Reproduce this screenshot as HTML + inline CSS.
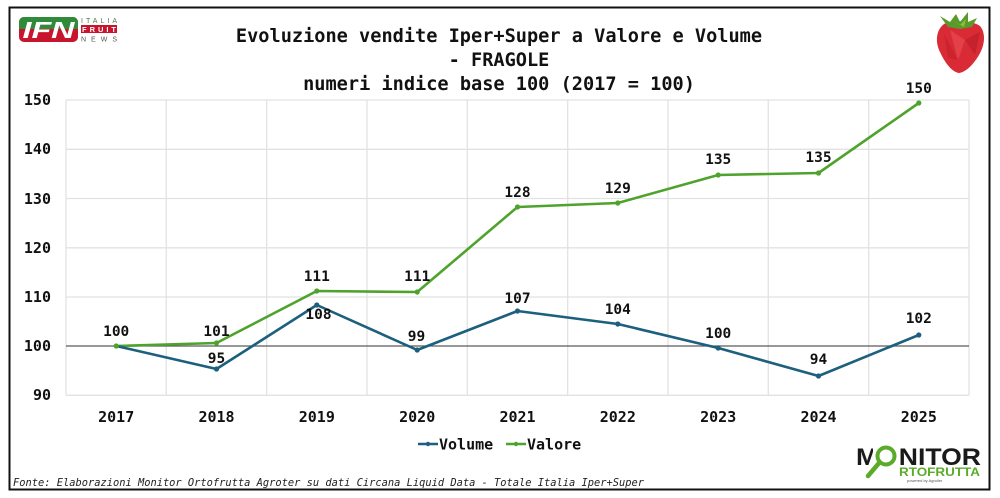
<!DOCTYPE html>
<html><head><meta charset="utf-8"><style>
html,body{margin:0;padding:0;background:#fff;}
svg{display:block;}
.m{font-family:"DejaVu Sans Mono","Liberation Mono",monospace;font-weight:bold;}
</style></head><body>
<svg width="1000" height="498" viewBox="0 0 1000 498" xmlns="http://www.w3.org/2000/svg">
<rect x="0" y="0" width="1000" height="498" fill="#fff"/>
<rect x="9.5" y="7.5" width="980" height="482" fill="#fff" stroke="#111" stroke-width="2"/>

<!-- IFN logo -->
<rect x="19" y="17" width="59" height="25" rx="5" fill="#c8142c"/>
<path d="M24 17 H73 A5 5 0 0 1 78 22 V29 H19 V22 A5 5 0 0 1 24 17 Z" fill="#2f8a3a"/>
<text x="48.5" y="38" text-anchor="middle" font-family="Liberation Sans, sans-serif" font-weight="bold" font-style="italic" font-size="23" fill="#fff" textLength="52" lengthAdjust="spacingAndGlyphs">IFN</text>
<text x="81" y="23" font-family="Liberation Sans, sans-serif" font-size="7" fill="#4a7a3a" textLength="36" lengthAdjust="spacing">ITALIA</text>
<rect x="81" y="25" width="36" height="8" fill="#c8142c"/>
<text x="82" y="32" font-family="Liberation Sans, sans-serif" font-size="7.5" font-weight="bold" fill="#fff" textLength="34" lengthAdjust="spacing">FRUIT</text>
<text x="81" y="41.5" font-family="Liberation Sans, sans-serif" font-size="7" fill="#555" textLength="36" lengthAdjust="spacing">NEWS</text>

<!-- Strawberry -->
<path d="M944 24 C952 20 972 20 980 26 C986 33 985 45 979 55 C973 65 966 72 959 73 C952 72 945 63 940 52 C935 42 936 30 944 24 Z" fill="#d92b35"/>
<path d="M950 30 L965 40 L958 60 Z" fill="#e84a52" opacity="0.7"/>
<path d="M965 40 L980 32 L975 55 Z" fill="#b81c28" opacity="0.6"/>
<path d="M944 34 L958 60 L948 58 Z" fill="#c2202c" opacity="0.6"/>
<path d="M940 16 L950 22 L956 14 L960 22 L968 12 L968 22 L977 18 L972 27 L960 29 L948 27 Z" fill="#5a9a2a"/>
<path d="M952 20 L960 25 L966 19 L964 27 Z" fill="#8cbf3a"/>

<!-- Title -->
<g class="m" font-size="18.6" fill="#111" text-anchor="middle">
<text x="499" y="42">Evoluzione vendite Iper+Super a Valore e Volume</text>
<text x="499" y="66">- FRAGOLE</text>
<text x="499" y="90">numeri indice base 100 (2017 = 100)</text>
</g>

<!-- Grid -->
<g stroke="#e2e2e2" stroke-width="1.3" fill="none">
<line x1="66" y1="100" x2="969" y2="100"/>
<line x1="66" y1="149.3" x2="969" y2="149.3"/>
<line x1="66" y1="198.5" x2="969" y2="198.5"/>
<line x1="66" y1="247.8" x2="969" y2="247.8"/>
<line x1="66" y1="297" x2="969" y2="297"/>
<line x1="66" y1="395.3" x2="969" y2="395.3"/>
<line x1="66" y1="100" x2="66" y2="395.3"/>
<line x1="166.3" y1="100" x2="166.3" y2="395.3"/>
<line x1="266.7" y1="100" x2="266.7" y2="395.3"/>
<line x1="367" y1="100" x2="367" y2="395.3"/>
<line x1="467.3" y1="100" x2="467.3" y2="395.3"/>
<line x1="567.7" y1="100" x2="567.7" y2="395.3"/>
<line x1="668" y1="100" x2="668" y2="395.3"/>
<line x1="768.3" y1="100" x2="768.3" y2="395.3"/>
<line x1="868.7" y1="100" x2="868.7" y2="395.3"/>
<line x1="969" y1="100" x2="969" y2="395.3"/>
</g>
<line x1="66" y1="346" x2="969" y2="346" stroke="#5a5a5a" stroke-width="1.2"/>

<!-- Y ticks -->
<g class="m" font-size="15" fill="#111" text-anchor="end">
<text x="51" y="105">150</text>
<text x="51" y="154">140</text>
<text x="51" y="204">130</text>
<text x="51" y="253">120</text>
<text x="51" y="302">110</text>
<text x="51" y="351">100</text>
<text x="51" y="400">90</text>
</g>
<!-- X ticks -->
<g class="m" font-size="15" fill="#111" text-anchor="middle">
<text x="116.2" y="422">2017</text>
<text x="216.5" y="422">2018</text>
<text x="316.8" y="422">2019</text>
<text x="417.2" y="422">2020</text>
<text x="517.5" y="422">2021</text>
<text x="617.8" y="422">2022</text>
<text x="718.2" y="422">2023</text>
<text x="818.5" y="422">2024</text>
<text x="918.8" y="422">2025</text>
</g>

<!-- Series -->
<polyline fill="none" stroke="#4ea32c" stroke-width="2.6" stroke-linejoin="round" points="116.2,346 216.5,343 316.8,291 417.2,292 517.5,207 617.8,203 718.2,175 818.5,173 918.8,103"/>
<polyline fill="none" stroke="#1d5f7e" stroke-width="2.6" stroke-linejoin="round" points="116.2,346 216.5,369 316.8,305 417.2,350 517.5,311 617.8,324 718.2,348 818.5,376 918.8,335"/>
<g fill="#4ea32c">
<circle cx="116.2" cy="346" r="2.6"/><circle cx="216.5" cy="343" r="2.6"/><circle cx="316.8" cy="291" r="2.6"/><circle cx="417.2" cy="292" r="2.6"/><circle cx="517.5" cy="207" r="2.6"/><circle cx="617.8" cy="203" r="2.6"/><circle cx="718.2" cy="175" r="2.6"/><circle cx="818.5" cy="173" r="2.6"/><circle cx="918.8" cy="103" r="2.6"/>
</g>
<g fill="#1d5f7e">
<circle cx="216.5" cy="369" r="2.6"/><circle cx="316.8" cy="305" r="2.6"/><circle cx="417.2" cy="350" r="2.6"/><circle cx="517.5" cy="311" r="2.6"/><circle cx="617.8" cy="324" r="2.6"/><circle cx="718.2" cy="348" r="2.6"/><circle cx="818.5" cy="376" r="2.6"/><circle cx="918.8" cy="335" r="2.6"/>
</g>

<!-- Data labels -->
<g class="m" font-size="14.5" fill="#111" text-anchor="middle">
<text x="116.2" y="336">100</text>
<text x="216.5" y="336">101</text>
<text x="316.8" y="281">111</text>
<text x="417.2" y="281">111</text>
<text x="517.5" y="197">128</text>
<text x="617.8" y="193">129</text>
<text x="718.2" y="164">135</text>
<text x="818.5" y="162">135</text>
<text x="918.8" y="93">150</text>
<text x="216.5" y="363">95</text>
<text x="318.5" y="319">108</text>
<text x="416.5" y="341">99</text>
<text x="517.5" y="303">107</text>
<text x="617.8" y="314">104</text>
<text x="718.2" y="338">100</text>
<text x="818.5" y="364">94</text>
<text x="918.8" y="323">102</text>
</g>

<!-- Legend -->
<line x1="418" y1="444" x2="438" y2="444" stroke="#1d5f7e" stroke-width="2.6"/>
<circle cx="428" cy="444" r="2.2" fill="#1d5f7e"/>
<text class="m" x="439" y="449.5" font-size="15" fill="#111">Volume</text>
<line x1="506" y1="444" x2="526" y2="444" stroke="#4ea32c" stroke-width="2.6"/>
<circle cx="516" cy="444" r="2.2" fill="#4ea32c"/>
<text class="m" x="527" y="449.5" font-size="15" fill="#111">Valore</text>

<!-- Footer -->
<text x="13" y="486" font-family="DejaVu Sans Mono, Liberation Mono, monospace" font-style="italic" font-size="10.4" fill="#222" textLength="631" lengthAdjust="spacingAndGlyphs">Fonte: Elaborazioni Monitor Ortofrutta Agroter su dati Circana Liquid Data - Totale Italia Iper+Super</text>

<!-- Monitor Ortofrutta logo -->
<text x="856" y="465" font-family="Liberation Sans, sans-serif" font-weight="bold" font-size="24" fill="#1a1a1a" textLength="125" lengthAdjust="spacingAndGlyphs">MONITOR</text>
<rect x="873" y="446" width="25" height="20" fill="#fff"/>
<circle cx="886" cy="456" r="8.5" fill="#fff" stroke="#5aab2a" stroke-width="4"/>
<line x1="879" y1="463" x2="868" y2="476" stroke="#5aab2a" stroke-width="4.5" stroke-linecap="round"/>
<text x="899" y="476" font-family="Liberation Sans, sans-serif" font-weight="bold" font-size="12" fill="#5aab2a" textLength="81" lengthAdjust="spacingAndGlyphs">RTOFRUTTA</text>
<text x="907" y="482" font-family="Liberation Sans, sans-serif" font-size="4" fill="#555">powered by Agroller</text>
</svg>
</body></html>
